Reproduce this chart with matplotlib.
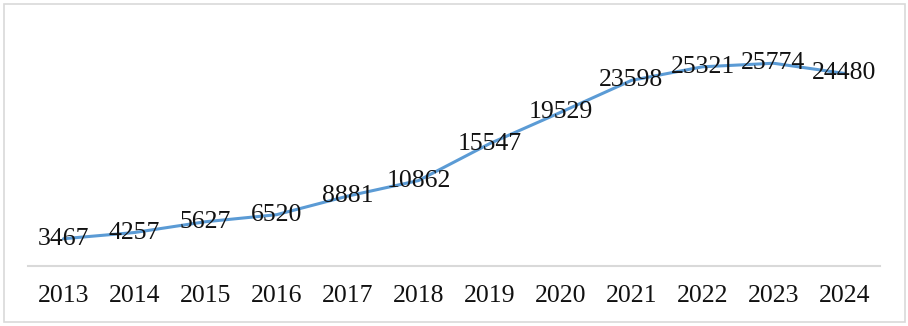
import matplotlib
matplotlib.use("Agg")
import matplotlib.pyplot as plt
from matplotlib.patches import Rectangle

years = ["2013", "2014", "2015", "2016", "2017", "2018", "2019", "2020", "2021", "2022", "2023", "2024"]
values = [3467, 4257, 5627, 6520, 8881, 10862, 15547, 19529, 23598, 25321, 25774, 24480]

plt.rcParams['font.family'] = ['Liberation Serif', 'DejaVu Serif']
W, H = 908, 326
fig = plt.figure(figsize=(W / 100, H / 100), dpi=100)

# outer border
fig.patches.append(Rectangle((4 / W, 4 / H), (905 - 4) / W, (322 - 4) / H,
                             transform=fig.transFigure, fill=False,
                             edgecolor='#D9D9D9', linewidth=1.2))

ax = fig.add_axes([28 / W, (H - 266) / H, (880 - 28) / W, (266 - 30) / H])
x = list(range(len(years)))
ax.plot(x, values, color='#5B9BD5', linewidth=2.2, solid_capstyle='round', zorder=2)
for xi, v in zip(x, values):
    ax.text(xi, v, str(v), ha='center', va='center', fontsize=18.5, color='#111111', zorder=3)

ax.set_xlim(-0.5, len(years) - 0.5)
ax.set_ylim(0, 30000)
ax.set_xticks(x)
ax.set_xticklabels(years, fontsize=18.5, color='#111111')
ax.tick_params(axis='x', length=0, pad=14)
ax.set_yticks([])
for s in ['top', 'right', 'left']:
    ax.spines[s].set_visible(False)
ax.spines['bottom'].set_color('#D9D9D9')
ax.spines['bottom'].set_linewidth(1.5)

fig.savefig('out.png', dpi=100)
